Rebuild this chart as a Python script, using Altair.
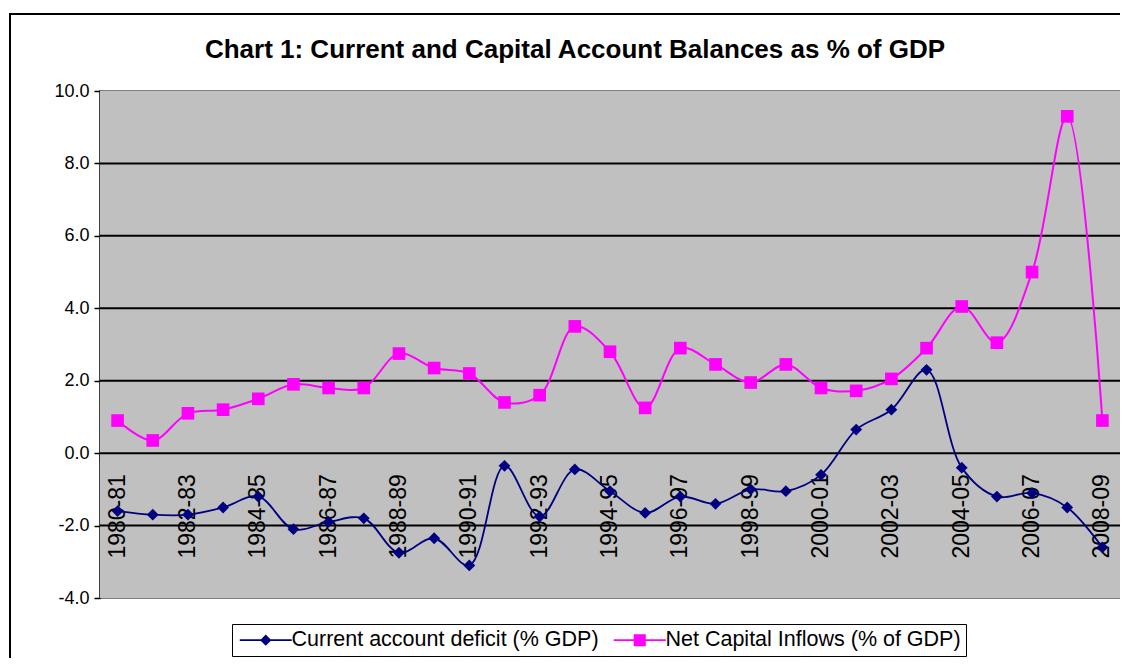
import altair as alt
import pandas as pd

title_text = "Chart 1: Current and Capital Account Balances as % of GDP"
years = ["1980-81", "1981-82", "1982-83", "1983-84", "1984-85", "1985-86", "1986-87",
         "1987-88", "1988-89", "1989-90", "1990-91", "1991-92", "1992-93", "1993-94",
         "1994-95", "1995-96", "1996-97", "1997-98", "1998-99", "1999-00", "2000-01",
         "2001-02", "2002-03", "2003-04", "2004-05", "2005-06", "2006-07", "2007-08",
         "2008-09"]
cad = [-1.6, -1.7, -1.7, -1.5, -1.2, -2.1, -1.9, -1.8, -2.75, -2.35, -3.1, -0.35, -1.75,
       -0.45, -1.05, -1.65, -1.2, -1.4, -1.0, -1.05, -0.6, 0.65, 1.2, 2.3, -0.4, -1.2,
       -1.1, -1.5, -2.6]
nci = [0.9, 0.35, 1.1, 1.2, 1.5, 1.9, 1.8, 1.8, 2.75, 2.35, 2.2, 1.4, 1.6, 3.5, 2.8,
       1.25, 2.9, 2.45, 1.95, 2.45, 1.8, 1.72, 2.05, 2.9, 4.05, 3.05, 5.0, 9.3, 0.9]
grid_vals = [-2, 0, 2, 4, 6, 8]
y_ticks = [-4, -2, 0, 2, 4, 6, 8, 10]
series_names = ["Current account deficit (% GDP)", "Net Capital Inflows (% of GDP)"]
series_colors = ["#000080", "#FF00FF"]

n = len(years)
df = pd.DataFrame({"idx": list(range(n)), "year": years, "cad": cad, "nci": nci})
grid_df = pd.DataFrame({"g": grid_vals})
legend_df = pd.DataFrame({"series": series_names})
one_df = pd.DataFrame({"t": [title_text]})
tick_vals = [i - 0.5 for i in range(n + 1)]

FONT = "Liberation Sans"
x_scale = alt.Scale(domain=[-0.5, n - 0.5], nice=False, zero=False)
y_scale = alt.Scale(domain=[-4, 10], nice=False, zero=False)
x_axis = alt.Axis(values=tick_vals, labels=False, title=None, grid=False, domain=False,
                  ticks=True, tickSize=8, tickColor="black", tickWidth=1.5, offset=-145)
y_axis = alt.Axis(values=y_ticks, title=None, grid=False, domain=True, domainColor="black",
                  domainWidth=2, ticks=True, tickSize=6, tickColor="black", tickWidth=1.5,
                  labelFont=FONT, labelFontSize=18, labelColor="black", labelPadding=5,
                  labelExpr="replace(format(datum.value, '.1f'), '\u2212', '-')")


def X(field):
    return alt.X(field, scale=x_scale, axis=x_axis)


def Y(field):
    return alt.Y(field, scale=y_scale, axis=y_axis)


base = alt.Chart(df)

# outer chart-area frame (decoration)
frame = alt.Chart(one_df).mark_rect(fill=None, stroke="black", strokeWidth=2, clip=False).encode(
    x=alt.value(-90), x2=alt.value(1200), y=alt.value(-77), y2=alt.value(800))

# chart title (as a text mark so the frame above it does not push it away)
title = alt.Chart(one_df).mark_text(font=FONT, fontSize=26, fontWeight="bold", color="black",
                                    align="center", baseline="alphabetic").encode(
    text="t:N", x=alt.value(475), y=alt.value(-33))

# plot-area background drawn through the scales
panel = alt.Chart(one_df).mark_rect(color="#C0C0C0").encode(
    x=alt.X("x0:Q", scale=x_scale, axis=x_axis), x2="x1:Q",
    y=alt.Y("y0:Q", scale=y_scale, axis=y_axis), y2="y1:Q").transform_calculate(
    x0="-0.5", x1=str(n - 0.5), y0="-4", y1="10")

grid = alt.Chart(grid_df).mark_rule(color="black", strokeWidth=2).encode(y=Y("g:Q"))

labels = base.transform_filter("datum.idx % 2 == 0").mark_text(
    angle=270, align="right", baseline="middle", dx=-21, fontSize=23, font=FONT,
    color="black").encode(x=X("idx:Q"), y=Y("zero:Q"), text="year:N").transform_calculate(zero="0")

line_cad = base.mark_line(color=series_colors[0], strokeWidth=1.8,
                          interpolate="catmull-rom").encode(x=X("idx:Q"), y=Y("cad:Q"))
line_nci = base.mark_line(color=series_colors[1], strokeWidth=2,
                          interpolate="catmull-rom").encode(x=X("idx:Q"), y=Y("nci:Q"))
pts_cad = base.mark_point(shape="diamond", filled=True, color=series_colors[0], size=140,
                          opacity=1).encode(x=X("idx:Q"), y=Y("cad:Q"))
pts_nci = base.mark_point(shape="square", filled=True, color=series_colors[1], size=160,
                          opacity=1).encode(x=X("idx:Q"), y=Y("nci:Q"))

path_d = "M-13,-0.4H13V0.4H-13Z M0,-2.8L2.8,0L0,2.8L-2.8,0Z"
path_s = "M-13,-0.4H13V0.4H-13Z M-3,-3H3V3H-3Z"
leg = alt.Legend(orient="none", legendX=132, legendY=533, direction="horizontal", title=None,
                 strokeColor="black", fillColor="white", padding=5, labelFont=FONT,
                 labelFontSize=21.5, labelColor="black", symbolSize=16, symbolOffset=18,
                 labelOffset=15, columnPadding=12, symbolStrokeWidth=0, labelLimit=400)
legend_layer = alt.Chart(legend_df).transform_filter("false").mark_point(
    filled=True, opacity=1).encode(
    color=alt.Color("series:N", scale=alt.Scale(domain=series_names, range=series_colors),
                    legend=leg),
    shape=alt.Shape("series:N", scale=alt.Scale(domain=series_names, range=[path_d, path_s]),
                    legend=leg),
)

chart = alt.layer(frame, panel, grid, labels, line_cad, line_nci, pts_cad, pts_nci,
                  title, legend_layer).properties(
    width=1020, height=507,
    autosize=alt.AutoSizeParams(type="none"),
    padding={"left": 92, "top": 83, "right": 0, "bottom": 60},
    background="white",
    view=alt.ViewBackground(fill="#C0C0C0", stroke="#808080", strokeWidth=2),
)

chart.save("out.html", embed_options={"renderer": "svg", "actions": False})
